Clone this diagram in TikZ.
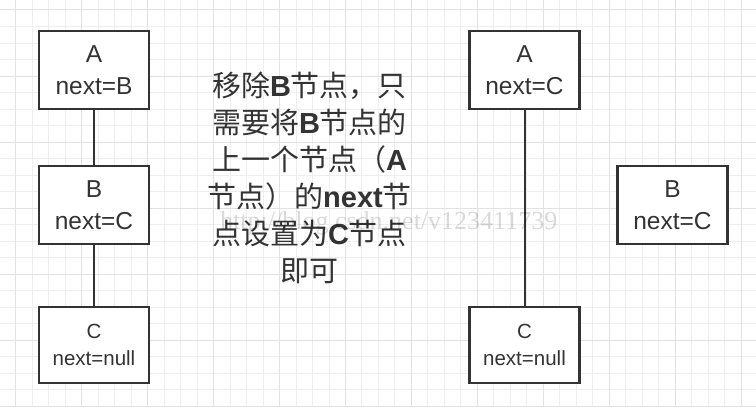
\documentclass[tikz,border=0pt]{standalone}
\usepackage{fontspec}
\setmainfont{Liberation Sans}
\newfontfamily\cjk{Noto Sans CJK SC}
\newfontfamily\latinfont{Liberation Sans}
\newfontfamily\wmfont{Liberation Serif}
\newcommand\lat[1]{{\latinfont\bfseries #1}}
\definecolor{linegray}{HTML}{333333}
\definecolor{textgray}{HTML}{333333}
\definecolor{gridminor}{HTML}{EEEEEE}
\definecolor{gridmajor}{HTML}{E2E2E2}
\usetikzlibrary{shapes.geometric, arrows}
\tikzstyle{stylenode} = [rectangle, minimum width=110pt, minimum height=78pt, inner sep=0pt, align=center, draw=linegray, line width=2.3pt, fill=white, text=textgray, font=\fontsize{24.5}{31.5}\selectfont]
\tikzstyle{stylelast} = [stylenode, minimum height=76pt, font=\fontsize{20.5}{27.4}\selectfont]
\tikzstyle{stylelink} = [draw=linegray, line width=2pt]

\begin{document}
\begin{tikzpicture}[x=1pt, y=1pt, node distance=135pt]
\useasboundingbox (0,0) rectangle (756,407);
\fill[white] (0,0) rectangle (756,407);
\foreach \i in {0,...,44} \draw[gridminor, line width=1pt] ({15.7+16.49*\i},0) -- ({15.7+16.49*\i},407);
\foreach \j in {0,...,24} \draw[gridminor, line width=1pt] (0,{397-16.52*\j}) -- (756,{397-16.52*\j});
\foreach \i in {0,4,...,44} \draw[gridmajor, line width=1pt] ({15.7+16.49*\i},0) -- ({15.7+16.49*\i},407);
\foreach \j in {0,4,...,24} \draw[gridmajor, line width=1pt] (0,{397-16.52*\j}) -- (756,{397-16.52*\j});

\node (a1) [stylenode] at (94,337) {A\\next=B};
\node (b1) [stylenode, below of=a1] {B\\next=C};
\node (c1) [stylelast, below of=b1, yshift=-5pt] {C\\next=null};

\node (a2) [stylenode, right of=a1, xshift=295.5pt] {A\\next=C};
\node (b2) [stylenode, below of=a2, xshift=148pt] {B\\next=C};
\node (c2) [stylelast, below of=b2, xshift=-148pt, yshift=-5pt] {C\\next=null};

\draw [stylelink] (a1.south) -- (b1.north);
\draw [stylelink] (b1.south) -- (c1.north);
\draw [stylelink] (a2.south) -- (c2.north);

\node (note) [anchor=north, inner sep=0pt, align=center, text=textgray, font=\cjk\fontsize{29}{37}\selectfont] at (309.5,335.3) {移除\lat{B}节点，只\\需要将\lat{B}节点的\\上一个节点（\lat{A}\\节点）的\lat{next}节\\点设置为\lat{C}节点\\即可};

\node (mark) [anchor=base west, inner sep=0pt, text=black, text opacity=0.15, font=\wmfont\fontsize{26}{26}\selectfont] at (220,177) {http://blog.csdn.net/v123411739};
\end{tikzpicture}
\end{document}
